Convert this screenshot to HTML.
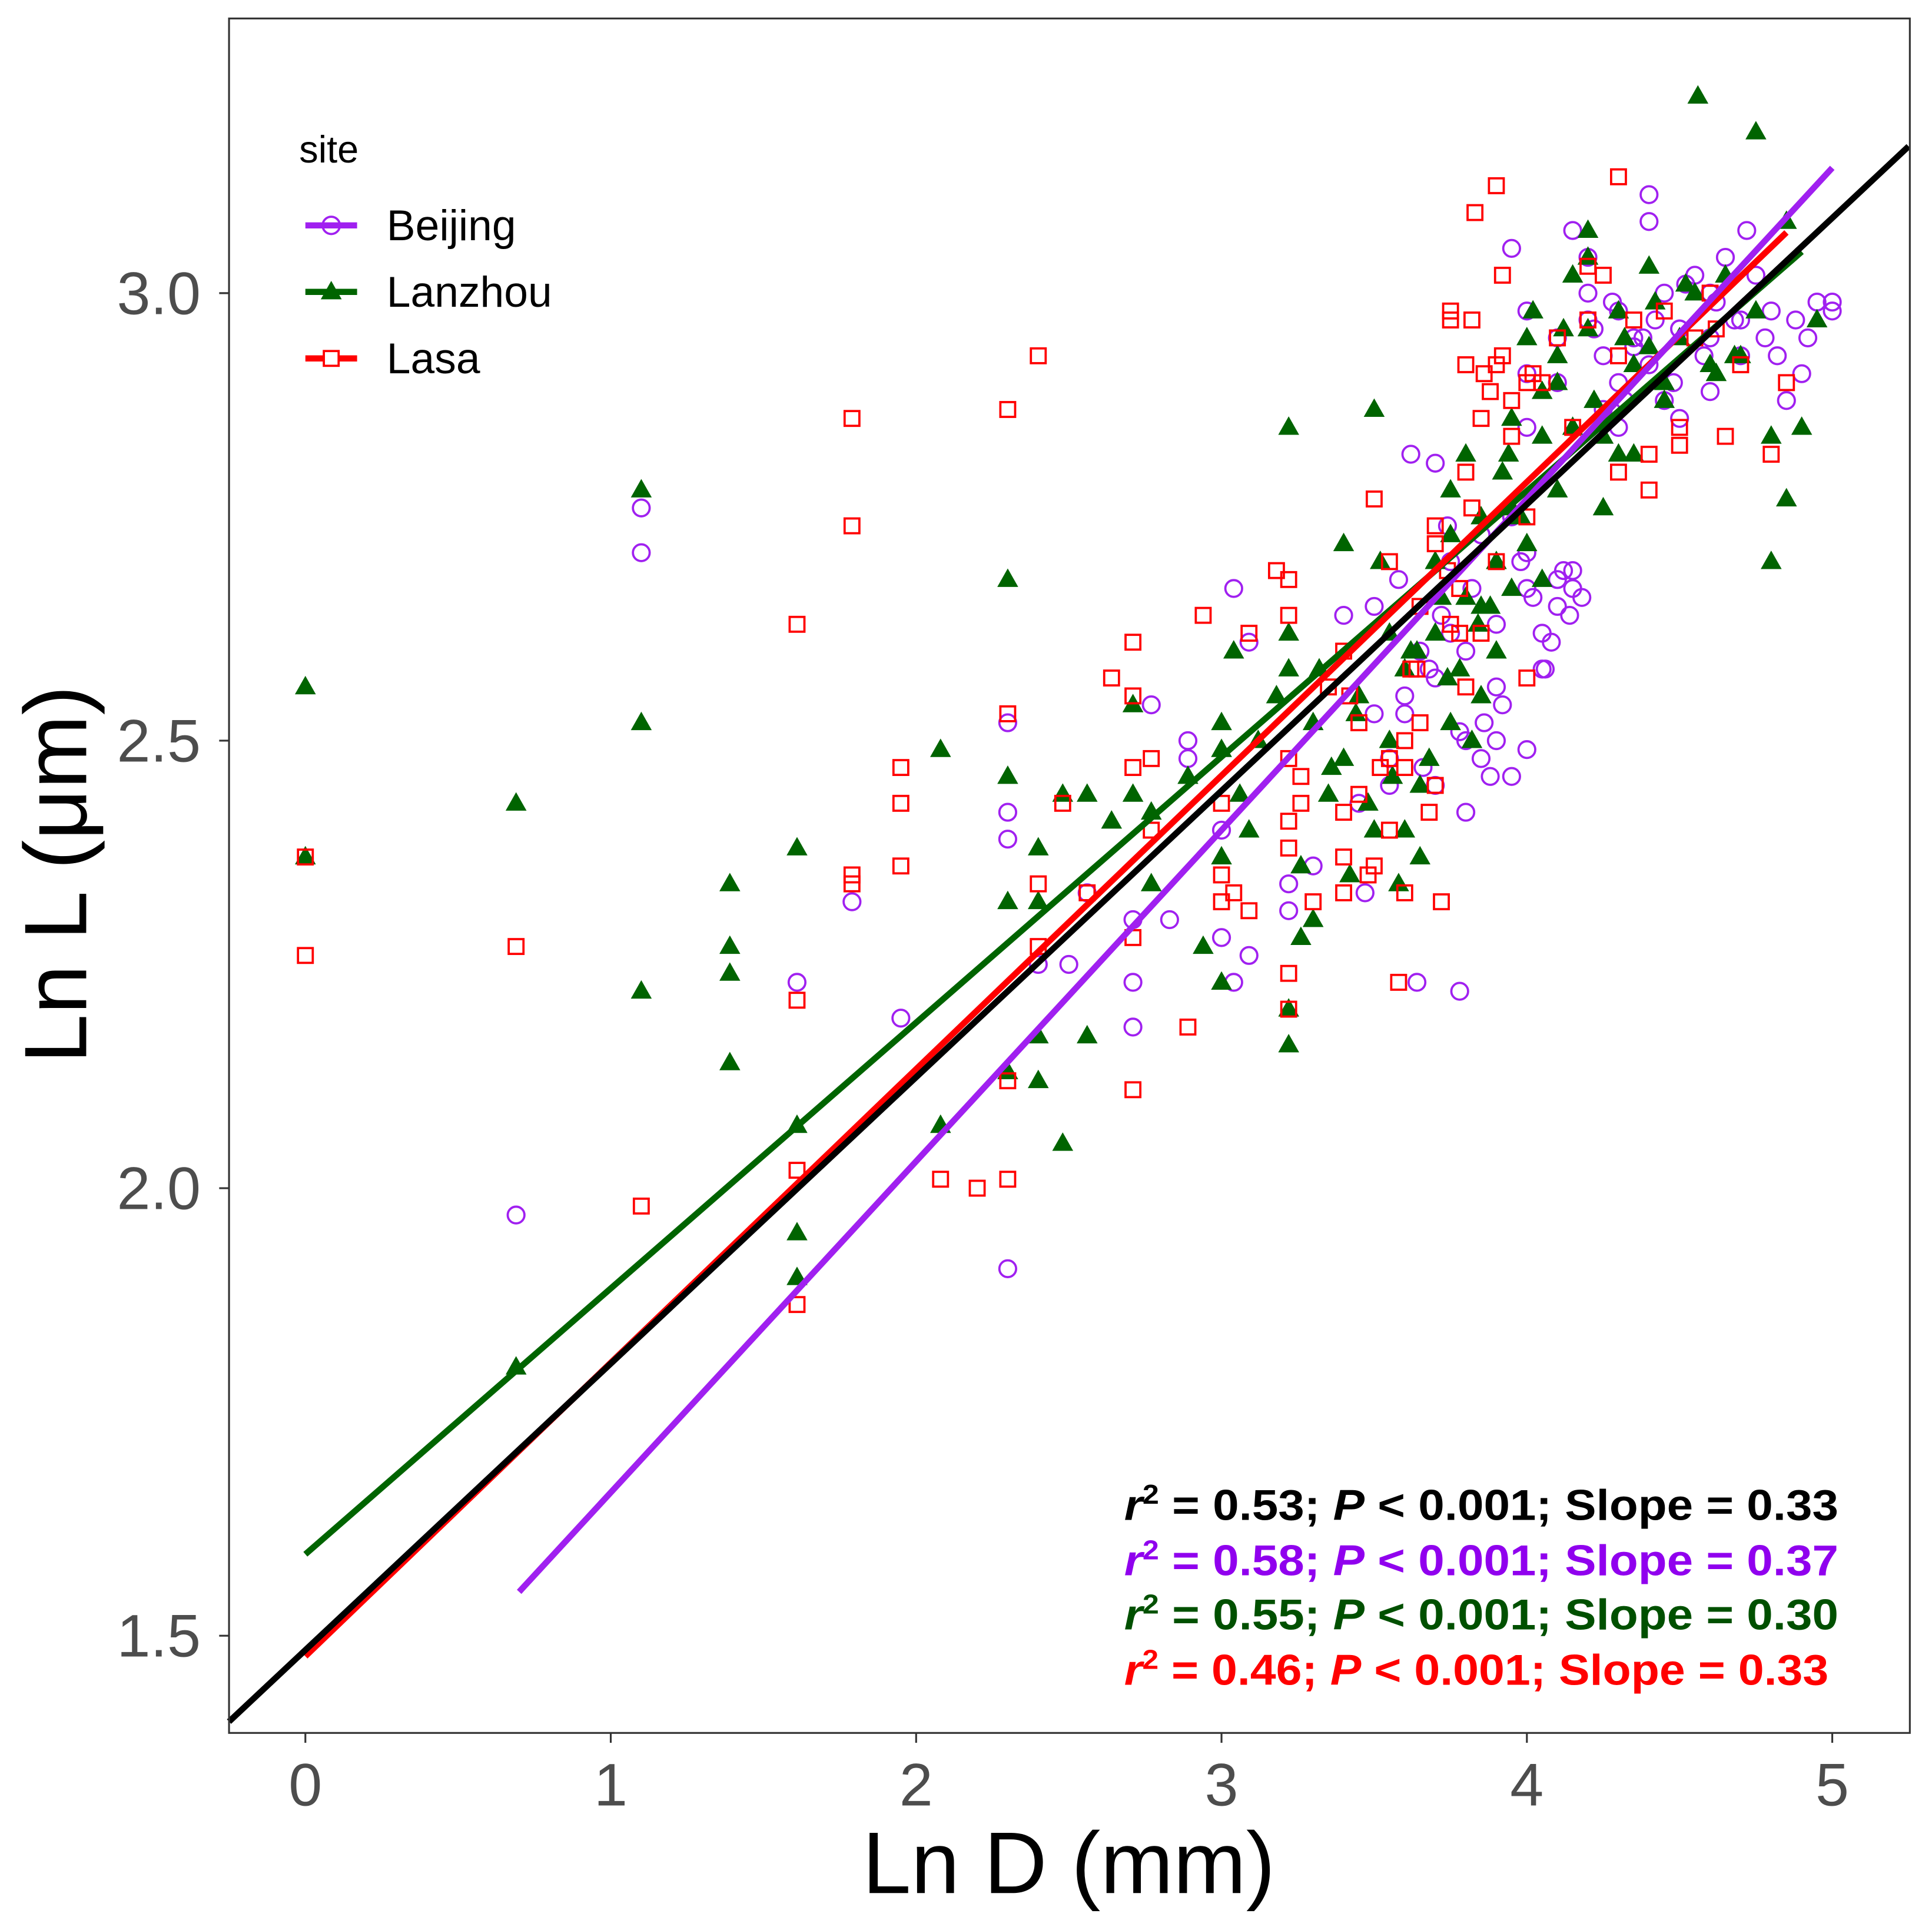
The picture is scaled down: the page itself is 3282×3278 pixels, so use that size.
<!DOCTYPE html>
<html><head><meta charset="utf-8"><style>
html,body{margin:0;padding:0;background:#fff}
svg{display:block}
text{font-family:"Liberation Sans",sans-serif}
</style></head><body>
<svg id="chart" xmlns="http://www.w3.org/2000/svg" width="3282" height="3278" viewBox="0 0 1569 1567" preserveAspectRatio="none">
<rect x="0" y="0" width="1569" height="1567" fill="#fff"/>
<g id="points"></g>
<g id="lines"></g>
<rect x="186" y="15" width="1365" height="1392" fill="none" stroke="#333" stroke-width="1.5"/>
<g id="axes"></g>
<text x="868" y="1537" font-size="71" text-anchor="middle" fill="#000">Ln D (mm)</text>
<text transform="translate(70,710) rotate(-90)" font-size="72" text-anchor="middle" fill="#000">Ln L (μm)</text>
<g>
<text x="243" y="132" font-size="31" fill="#000">site</text>
<g>
<line x1="248" y1="183" x2="290" y2="183" stroke="#a020f0" stroke-width="5"/><circle cx="269" cy="183" r="7" fill="none" stroke="#a020f0" stroke-width="1.8"/>
<text x="314" y="195" font-size="35">Beijing</text></g>
<g>
<line x1="248" y1="237" x2="290" y2="237" stroke="#006400" stroke-width="5"/><polygon points="269,228 277.5,243 260.5,243" fill="#006400"/>
<text x="314" y="249" font-size="35">Lanzhou</text></g>
<g>
<line x1="248" y1="291" x2="290" y2="291" stroke="#ff0000" stroke-width="5"/><rect x="263" y="285" width="12" height="12" fill="#fff" stroke="#ff0000" stroke-width="1.8"/>
<text x="314" y="303" font-size="35">Lasa</text></g>
</g>
<g font-weight="bold" font-size="35">
<text x="913" y="1234" fill="#000" textLength="580" lengthAdjust="spacingAndGlyphs"><tspan font-style="italic">r</tspan><tspan font-size="22" dy="-13">2</tspan><tspan dy="13"> = 0.53; </tspan><tspan font-style="italic">P</tspan> &lt; 0.001; Slope = 0.33</text>
<text x="913" y="1279" fill="#9000ee" textLength="580" lengthAdjust="spacingAndGlyphs"><tspan font-style="italic">r</tspan><tspan font-size="22" dy="-13">2</tspan><tspan dy="13"> = 0.58; </tspan><tspan font-style="italic">P</tspan> &lt; 0.001; Slope = 0.37</text>
<text x="913" y="1323" fill="#005000" textLength="580" lengthAdjust="spacingAndGlyphs"><tspan font-style="italic">r</tspan><tspan font-size="22" dy="-13">2</tspan><tspan dy="13"> = 0.55; </tspan><tspan font-style="italic">P</tspan> &lt; 0.001; Slope = 0.30</text>
<text x="913" y="1368" fill="#ff0000" textLength="572" lengthAdjust="spacingAndGlyphs"><tspan font-style="italic">r</tspan><tspan font-size="22" dy="-13">2</tspan><tspan dy="13"> = 0.46; </tspan><tspan font-style="italic">P</tspan> &lt; 0.001; Slope = 0.33</text>
</g>
</svg>
<script>
const xTicks = [0, 1, 2, 3, 4, 5];
const xTickLabels = ["0", "1", "2", "3", "4", "5"];
const yTicks = [1.5, 2.0, 2.5, 3.0];
const yTickLabels = ["1.5", "2.0", "2.5", "3.0"];

const beijingX = [1.1,1.1,0.69,1.61,1.79,1.95,2.3,2.3,2.3,2.3,2.4,2.5,2.56,2.71,2.71,2.71,2.77,2.83,2.89,2.89,3.0,3.0,3.04,3.04,3.09,3.09,3.22,3.22,3.3,3.4,3.47,3.64,3.78,
3.5,3.55,3.6,3.65,3.7,3.7,3.75,3.8,3.8,3.85,3.9,3.9,3.95,4.0,4.0,4.05,4.05,4.1,4.1,4.15,4.15,3.6,3.7,3.8,3.9,4.0,3.5,3.45,3.55,3.75,3.85,3.95,4.0,4.1,
4.0,4.1,4.2,4.2,4.25,4.3,4.3,4.35,4.4,4.4,4.45,4.5,4.5,4.55,4.6,4.6,4.65,4.7,4.7,4.75,4.8,4.85,4.9,4.95,5.0,5.0,4.2,4.3,4.4,4.45,4.15,4.25,4.35,4.5,4.6,4.72,4.82,4.88,4.0,3.95,
3.62,3.68,3.72,3.78,3.82,3.88,3.92,3.98,4.02,4.08,4.12,4.18,3.58,3.66,3.74,3.86,4.06,4.14,4.22,4.28,4.32,4.38,4.42,4.48,4.52,4.58,4.62,4.68,4.78,4.92];
const beijingY = [2.76,2.71,1.97,2.23,2.32,2.19,2.52,2.42,2.39,1.91,2.25,2.25,2.33,2.30,2.23,2.18,2.54,2.30,2.50,2.48,2.40,2.28,2.67,2.23,2.26,2.61,2.31,2.34,2.36,2.64,2.33,2.23,2.22,
2.53,2.45,2.55,2.60,2.81,2.45,2.70,2.42,2.60,2.48,2.50,2.63,2.75,2.49,2.67,2.62,2.58,2.68,2.65,2.67,2.69,2.53,2.57,2.50,2.56,2.71,2.65,2.43,2.48,2.62,2.73,2.46,2.85,2.90,
2.98,2.95,3.00,2.97,2.93,2.98,2.90,2.95,2.92,3.08,2.88,2.86,2.96,3.02,2.95,3.00,3.04,2.93,2.97,3.02,2.98,2.88,2.91,2.99,2.99,2.98,3.04,2.85,3.11,3.00,3.07,2.87,2.94,2.96,2.89,3.07,2.93,2.97,2.91,3.05,2.82,
2.58,2.64,2.51,2.67,2.46,2.54,2.70,2.66,2.61,2.69,2.66,2.68,2.47,2.74,2.52,2.58,2.64,2.96,2.99,2.88,2.95,2.97,2.90,3.01,2.93,2.99,2.97,2.95,2.95,2.97];

const lanzhouX = [0,0,0.69,0.69,1.1,1.1,1.1,1.39,1.39,1.39,1.39,1.61,1.61,1.61,1.61,2.08,2.08,2.3,2.3,2.3,2.3,2.4,2.4,2.4,2.4,2.48,2.48,2.56,2.56,2.64,2.71,2.71,2.77,2.77,2.89,2.94,3.0,3.0,3.0,3.0,3.04,3.09,3.22,3.22,3.22,3.22,3.26,3.3,
3.3,3.35,3.4,3.4,3.45,3.5,3.5,3.55,3.55,3.6,3.6,3.65,3.65,3.7,3.7,3.75,3.75,3.8,3.8,3.85,3.85,3.9,3.9,3.95,3.95,4.0,4.0,4.05,4.05,4.1,4.1,3.52,3.62,3.72,3.82,3.92,3.42,3.32,3.58,3.68,3.78,3.88,3.98,
4.1,4.15,4.2,4.2,4.25,4.3,4.35,4.4,4.45,4.5,4.55,4.6,4.65,4.7,4.75,4.8,4.8,4.85,4.9,4.95,4.56,4.75,4.15,4.25,4.35,4.45,4.3,4.2,4.4,4.05,3.95,3.85,3.75,4.62,4.85,
3.36,3.44,3.48,3.56,3.64,3.74,3.84,3.94,4.02,3.22,3.26,3.12,3.18,4.12,4.22,4.32,4.42,4.52,4.68,3.06];
const lanzhouY = [2.56,2.37,2.43,1.80,2.78,2.52,2.22,2.34,2.27,2.24,2.14,2.38,2.07,1.95,1.90,2.49,2.07,2.68,2.46,2.32,2.13,2.38,2.32,2.17,2.12,2.44,2.05,2.44,2.17,2.41,2.54,2.44,2.34,2.42,2.46,2.27,2.52,2.49,2.37,2.23,2.60,2.40,2.85,2.62,2.20,2.16,2.28,2.30,
2.52,2.44,2.72,2.48,2.55,2.87,2.40,2.62,2.50,2.58,2.40,2.45,2.37,2.70,2.62,2.78,2.52,2.82,2.66,2.75,2.55,2.70,2.60,2.86,2.67,2.72,2.95,2.84,2.68,2.78,2.93,2.70,2.60,2.66,2.50,2.80,2.35,2.58,2.34,2.48,2.58,2.65,2.75,
2.90,3.02,2.96,3.07,2.84,2.98,2.92,3.03,2.88,2.95,3.00,2.92,3.02,2.93,2.98,2.84,2.70,2.77,2.85,2.97,3.22,3.18,2.85,2.76,2.82,2.90,2.82,3.04,2.94,2.89,2.76,2.65,2.73,2.91,3.08,
2.47,2.53,2.43,2.46,2.60,2.57,2.63,2.82,2.98,2.58,2.36,2.50,2.55,2.96,2.88,2.95,2.99,3.01,2.93,2.44];

const lasaX = [0,0,0.69,1.1,1.61,1.61,1.61,1.61,1.79,1.79,1.79,1.79,1.95,1.95,1.95,2.08,2.2,2.3,2.3,2.3,2.3,2.4,2.4,2.4,2.48,2.56,2.64,2.71,2.71,2.71,2.71,2.71,2.77,2.77,2.89,2.94,3.0,3.0,3.0,3.04,3.09,3.09,3.18,3.22,3.22,3.22,3.22,3.22,3.22,3.22,3.26,3.26,3.3,
3.35,3.4,3.4,3.45,3.5,3.5,3.55,3.55,3.6,3.6,3.65,3.65,3.7,3.7,3.75,3.75,3.8,3.8,3.85,3.85,3.9,3.9,3.95,4.0,4.0,3.58,3.68,3.78,3.88,3.42,3.52,3.62,3.72,3.82,3.92,
4.05,4.1,4.15,4.2,4.25,4.3,4.3,4.35,4.4,4.45,4.5,4.55,4.6,4.65,4.7,4.8,4.85,3.9,3.83,4.3,3.75,3.8,4.0,3.95,4.2,4.4,4.5,4.62,
3.4,3.4,3.45,3.55,3.6,3.7,3.78,3.86,3.92,4.02,3.48,3.64,3.74,3.82];
const lasaY = [2.37,2.26,2.27,1.98,2.63,2.21,2.02,1.87,2.86,2.74,2.35,2.34,2.47,2.43,2.36,2.01,2.00,2.87,2.53,2.12,2.01,2.93,2.34,2.27,2.43,2.33,2.57,2.61,2.55,2.47,2.28,2.11,2.48,2.40,2.18,2.64,2.43,2.35,2.32,2.33,2.62,2.31,2.69,2.68,2.64,2.48,2.41,2.38,2.24,2.20,2.46,2.43,2.32,
2.56,2.60,2.37,2.44,2.77,2.36,2.48,2.70,2.50,2.33,2.52,2.65,2.72,2.45,2.63,2.97,2.80,2.56,2.62,2.86,2.92,2.70,2.84,2.75,2.90,2.23,2.42,2.67,2.89,2.55,2.47,2.58,2.32,2.97,3.02,
2.90,2.95,2.85,2.97,3.02,2.93,2.80,2.97,2.82,2.98,2.85,2.95,3.00,2.84,2.92,2.82,2.90,3.12,3.09,3.13,2.98,2.92,2.57,2.88,3.03,2.78,2.83,2.96,
2.42,2.33,2.52,2.40,2.47,2.74,2.62,2.91,2.93,2.91,2.35,2.58,2.69,2.76];

const lineSites = ["lanzhou", "lasa", "beijing", "all"];
const lineIntercepts = [1.591, 1.477, 1.290, 1.484];
const lineSlopes = [0.297, 0.328, 0.370, 0.320];
const lineXStart = [0, 0, 0.7, -0.25];
const lineXEnd = [4.9, 4.85, 5.0, 5.25];

const X0 = 248, XU = 248, Y3 = 238, YU = 726.7;
function sx(v){ return X0 + v * XU; }
function sy(v){ return Y3 - (v - 3.0) * YU; }
const NS = "http://www.w3.org/2000/svg";
function mk(tag, attrs){ const e = document.createElementNS(NS, tag); for (const k in attrs) e.setAttribute(k, attrs[k]); return e; }

const pts = document.getElementById('points');
beijingX.forEach((x,i)=>{
  const c = mk('circle', {cx:sx(x), cy:sy(beijingY[i]), r:6.8, fill:'none', stroke:'#a020f0', 'stroke-width':1.8});
  
  
  pts.appendChild(c);
});
lanzhouX.forEach((x,i)=>{
  const px = sx(x), py = sy(lanzhouY[i]);
  const p = mk('polygon', {points:`${px},${py-9} ${px+8.5},${py+6} ${px-8.5},${py+6}`, fill:'#006400'});
  
  
  pts.appendChild(p);
});
lasaX.forEach((x,i)=>{
  const r = mk('rect', {x:sx(x)-6, y:sy(lasaY[i])-6, width:12, height:12, fill:'none', stroke:'#ff0000', 'stroke-width':1.8});
  
  
  pts.appendChild(r);
});

const lineColors = {lanzhou:'#006400', lasa:'#ff0000', beijing:'#a020f0', all:'#000'};
const lg = document.getElementById('lines');
lineSites.forEach((s,i)=>{
  const a = lineXStart[i], b = lineXEnd[i];
  const l = mk('line', {x1:sx(a), y1:sy(lineIntercepts[i]+lineSlopes[i]*a), x2:sx(b), y2:sy(lineIntercepts[i]+lineSlopes[i]*b), stroke:lineColors[s], 'stroke-width':5});
  
  
  lg.appendChild(l);
});

const ax = document.getElementById('axes');
xTicks.forEach((v,i)=>{
  const t = mk('line', {x1:sx(v), y1:1407, x2:sx(v), y2:1415, stroke:'#333', 'stroke-width':1.5});
  
  
  ax.appendChild(t);
  const tx = mk('text', {x:sx(v), y:1466, 'font-size':49, 'text-anchor':'middle', fill:'#4d4d4d'});
  tx.textContent = xTickLabels[i];
  
  
  ax.appendChild(tx);
});
yTicks.forEach((v,i)=>{
  const t = mk('line', {x1:178, y1:sy(v), x2:186, y2:sy(v), stroke:'#333', 'stroke-width':1.5});
  
  
  ax.appendChild(t);
  const tx = mk('text', {x:163, y:sy(v)+17, 'font-size':49, 'text-anchor':'end', fill:'#4d4d4d'});
  tx.textContent = yTickLabels[i];
  
  
  ax.appendChild(tx);
});
</script>
</body></html>
